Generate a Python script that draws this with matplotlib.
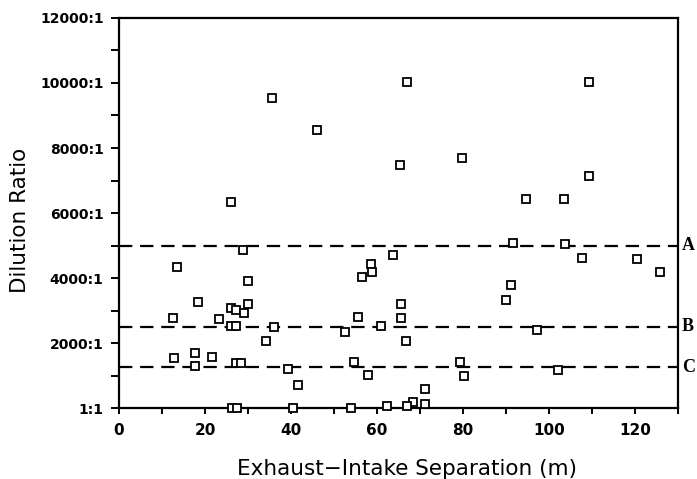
import numpy as np
import matplotlib.pyplot as plt
from matplotlib.ticker import MultipleLocator, FixedLocator

# separation (m) and dilution ratio (x:1)
separation = [13.4, 28.9, 29.9, 18.4, 12.6, 23.2, 26.0, 27.2, 29.1, 30.1,
              26.0, 27.2, 36.0, 34.2, 12.9, 17.7, 17.7, 21.7, 27.2, 28.4,
              39.4, 41.6, 26.4, 27.4, 40.5,
              63.7, 58.5, 58.8, 56.6, 65.7, 65.7, 55.7, 60.9, 52.6, 66.8,
              54.7, 58.0, 79.3, 80.2, 71.2, 71.2, 68.4, 67.0, 62.4, 53.9,
              91.6, 103.7, 107.7, 120.5, 125.8, 91.1, 89.9, 97.1, 102.2,
              35.7, 46.0, 26.0, 67.0, 65.3,
              109.2, 79.7, 109.4, 94.6, 103.4]
dilution = [4350, 4850, 3900, 3250, 2780, 2750, 3070, 3030, 2940, 3200,
            2520, 2520, 2510, 2050, 1540, 1680, 1310, 1560, 1385, 1385,
            1200, 720, 1, 1, 1,
            4720, 4420, 4180, 4040, 3190, 2760, 2810, 2520, 2330, 2060,
            1425, 1030, 1415, 975, 575, 120, 180, 60, 60, 1,
            5070, 5050, 4615, 4575, 4175, 3800, 3330, 2400, 1170,
            9540, 8540, 6350, 10020, 7490,
            10020, 7690, 7140, 6430, 6430]

criteria = [5000, 2500, 1250]
criteria_labels = ["A", "B", "C"]

ytick_vals = [0, 2000, 4000, 6000, 8000, 10000, 12000]
ytick_labels = ["1:1", "2000:1", "4000:1", "6000:1", "8000:1", "10000:1", "12000:1"]

fig = plt.figure(figsize=(6.97, 4.79), dpi=100)
ax = fig.add_axes([0.1707, 0.148, 0.8020, 0.8145])

for lvl, lab in zip(criteria, criteria_labels):
    ax.axhline(lvl, color="black", lw=1.6, ls=(0, (6, 3.5)), zorder=1)
    ax.text(1.007, lvl, lab, transform=ax.get_yaxis_transform(), ha="left", va="center",
            fontsize=13, fontweight="bold", family="Liberation Serif")

ax.plot(separation, dilution, ls="none", marker="s", ms=5.5, mfc="white", mec="black",
        mew=1.3, clip_on=False, zorder=3)

ax.set_xlim(0, 130)
ax.set_ylim(0, 12000)
ax.xaxis.set_major_locator(MultipleLocator(20))
ax.xaxis.set_minor_locator(MultipleLocator(10))
ax.yaxis.set_major_locator(FixedLocator(ytick_vals))
ax.yaxis.set_minor_locator(MultipleLocator(1000))
ax.set_yticklabels(ytick_labels)

for s in ax.spines.values():
    s.set_linewidth(1.6)
ax.tick_params(which="both", direction="out", width=1.4)
ax.tick_params(axis="y", which="both", length=6, pad=5, labelsize=10)
ax.tick_params(axis="x", which="both", length=4.5, pad=6.5, labelsize=11)
for t in ax.get_xticklabels() + ax.get_yticklabels():
    t.set_fontweight("bold")

ax.set_xlabel("Exhaust\u2212Intake Separation (m)", fontsize=15.5)
ax.xaxis.set_label_coords(0.516, -0.131)
ax.set_ylabel("Dilution Ratio", fontsize=15.5)
ax.yaxis.set_label_coords(-0.159, 0.482)

fig.savefig("out.png", dpi=100)
